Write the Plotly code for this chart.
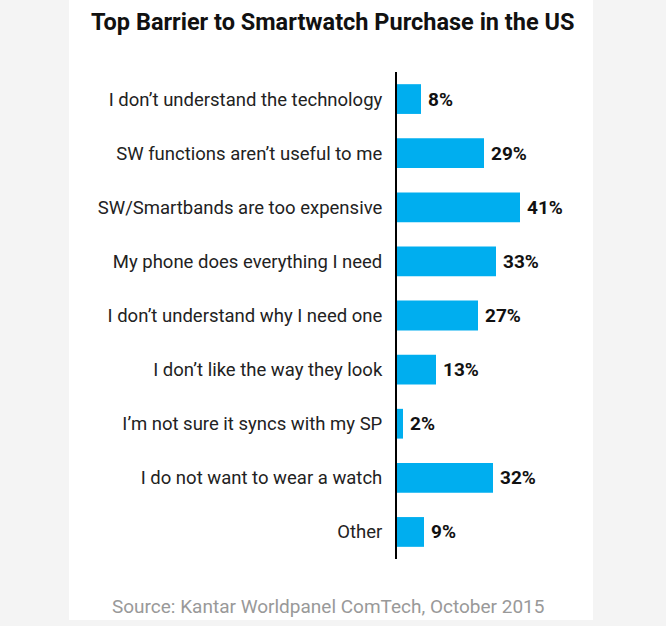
import plotly.graph_objects as go

categories = [
    "I don’t understand the technology",
    "SW functions aren’t useful to me",
    "SW/Smartbands are too expensive",
    "My phone does everything I need",
    "I don’t understand why I need one",
    "I don’t like the way they look",
    "I’m not sure it syncs with my SP",
    "I do not want to wear a watch",
    "Other",
]
values = [8, 29, 41, 33, 27, 13, 2, 32, 9]

BAR = "#00AEEF"
W, H = 666, 626

fig = go.Figure()
fig.add_trace(go.Bar(
    y=categories, x=values, orientation="h",
    marker=dict(color=BAR, line=dict(width=0)),
    width=0.55, hoverinfo="skip",
))

for c, v in zip(categories, values):
    fig.add_annotation(x=v, y=c, text=f"<b>{v}%</b>", showarrow=False,
                       xanchor="left", xshift=5,
                       font=dict(family="Roboto", size=19, color="#111"))

# white panel
fig.add_shape(type="rect", xref="paper", yref="paper", layer="below",
              x0=(69 - 397) / 180, x1=(593 - 397) / 180,
              y0=(559 - 620) / 487, y1=(559 - 0) / 487,
              fillcolor="white", line=dict(width=0))

fig.add_annotation(xref="paper", yref="paper", x=(332 - 397) / 180, y=(559 - 22) / 487,
                   text="<b>Top Barrier to Smartwatch Purchase in the US</b>",
                   showarrow=False, xanchor="center", yanchor="middle",
                   font=dict(family="Roboto", size=23.5, color="#111"))
fig.add_annotation(xref="paper", yref="paper", x=(328 - 397) / 180, y=(559 - 606) / 487,
                   text="Source: Kantar Worldpanel ComTech, October 2015",
                   showarrow=False, xanchor="center", yanchor="middle",
                   font=dict(family="Roboto", size=19, color="#999"))

fig.update_layout(
    width=W, height=H,
    margin=dict(l=397, r=W - 577, t=72, b=H - 559, pad=0),
    paper_bgcolor="#f4f4f4", plot_bgcolor="rgba(0,0,0,0)",
    showlegend=False,
    xaxis=dict(range=[0, 60], visible=False, fixedrange=True),
    yaxis=dict(autorange="reversed", showline=True, linecolor="#000", linewidth=2,
               showgrid=False, zeroline=False, ticks="", ticklabelstandoff=9,
               fixedrange=True,
               tickfont=dict(family="Roboto", size=18.5, color="#222")),
)

fig.write_html("out.html", config={"displayModeBar": False},
               post_script="document.body.style.margin='0';")
